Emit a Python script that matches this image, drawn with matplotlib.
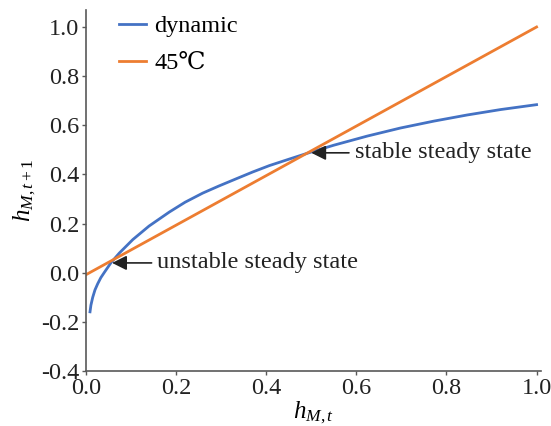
import numpy as np
import matplotlib
matplotlib.use("Agg")
import matplotlib.pyplot as plt

plt.rcParams['font.family'] = ['Liberation Serif', 'DejaVu Serif', 'DejaVu Sans']
plt.rcParams['mathtext.fontset'] = 'custom'
plt.rcParams['mathtext.rm'] = 'Liberation Serif'
plt.rcParams['mathtext.it'] = 'Liberation Serif:italic'
plt.rcParams['axes.unicode_minus'] = False

# values
h_t = [0.009, 0.011, 0.015, 0.020, 0.026, 0.033, 0.041, 0.056, 0.074, 0.104,
       0.140, 0.185, 0.220, 0.259, 0.295, 0.333, 0.370, 0.407, 0.452, 0.496,
       0.550, 0.624, 0.698, 0.772, 0.846, 0.920, 1.000]
h_next = [-0.159, -0.132, -0.100, -0.070, -0.045, -0.020, 0.002, 0.042, 0.080, 0.135,
          0.190, 0.247, 0.287, 0.324, 0.353, 0.382, 0.410, 0.436, 0.463, 0.489,
          0.519, 0.556, 0.589, 0.617, 0.642, 0.664, 0.684]
line45_x = [0.0, 1.0]
line45_y = [-0.008, 1.0]

stable = (0.50, 0.488)
unstable = (0.058, 0.040)

fig = plt.figure(figsize=(5.51, 4.26), dpi=100)
ax = fig.add_axes([0.156, 0.129, 0.826, 0.848])

ax.plot(h_t, h_next, color='#4472C4', lw=2, label='dynamic')
ax.plot(line45_x, line45_y, color='#ED7D31', lw=2, label='45℃')

arrow = dict(arrowstyle='-|>', color='#222222', lw=1.2, mutation_scale=22,
             shrinkA=2, shrinkB=0)
ax.annotate('stable steady state', xy=stable, xytext=(0.596, stable[1]),
            ha='left', va='center', fontsize=17.5, color='#222222', arrowprops=arrow)
ax.annotate('unstable steady state', xy=unstable, xytext=(0.158, unstable[1]),
            ha='left', va='center', fontsize=17.5, color='#222222', arrowprops=arrow)

ax.set_xlim(0, 1.01)
ax.set_ylim(-0.4, 1.07)
ax.set_xticks(np.arange(0, 1.01, 0.2))
ax.set_yticks(np.arange(-0.4, 1.01, 0.2))
ax.set_xticklabels(['%.1f' % v for v in np.arange(0, 1.01, 0.2)])
ax.set_yticklabels(['%.1f' % v for v in np.arange(-0.4, 1.01, 0.2)])
ax.tick_params(labelsize=17.5, colors='#222222', length=3, width=1, pad=2)
ax.tick_params(color='#595959')

for s in ['top', 'right']:
    ax.spines[s].set_visible(False)
for s in ['left', 'bottom']:
    ax.spines[s].set_color('#595959')
    ax.spines[s].set_linewidth(1.2)

ax.set_xlabel('$h_{M,t}$', fontsize=18, labelpad=0)
ax.set_ylabel('$h_{M,t+1}$', fontsize=18, labelpad=2)

ax.legend(loc='upper left', bbox_to_anchor=(0.025, 1.045), frameon=False, fontsize=17.5,
          handlelength=1.1, handletextpad=0.35, labelspacing=0.6)

fig.savefig('out.png', dpi=100)
